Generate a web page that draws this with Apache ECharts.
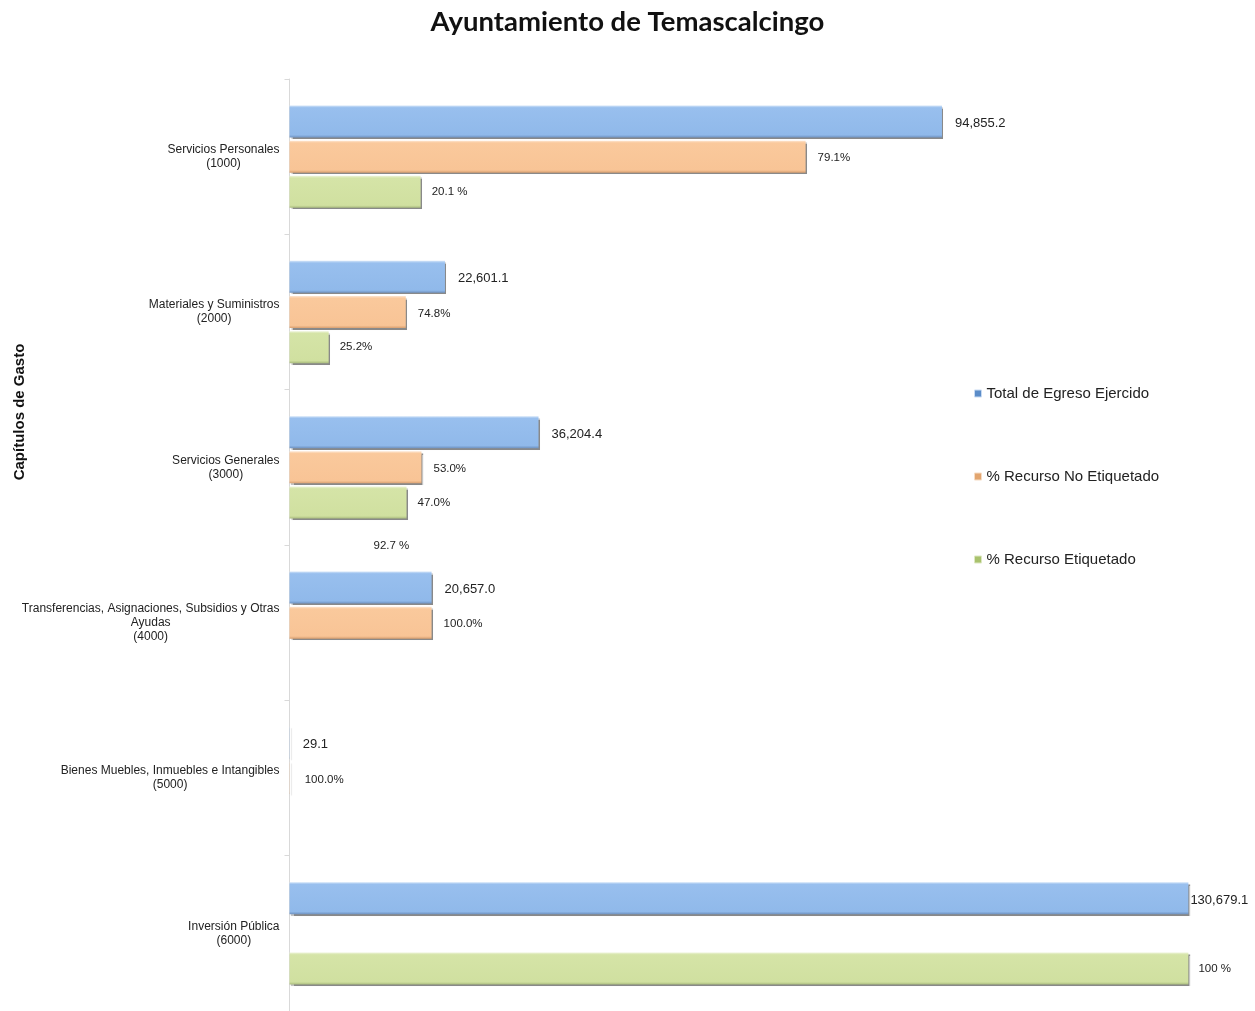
<!DOCTYPE html>
<html>
<head>
<meta charset="utf-8">
<script src="https://cdn.jsdelivr.net/npm/echarts@6/dist/echarts.min.js"></script>
<style>
html,body{margin:0;padding:0;background:#fff;}
#chart{width:1255px;height:1011px;}
</style>
</head>
<body>
<div id="chart"></div>
<script>
// ---- data ----
const categories = [
  'Servicios Personales\n(1000)',
  'Materiales y Suministros\n(2000)',
  'Servicios Generales\n(3000)',
  'Transferencias, Asignaciones, Subsidios y Otras\nAyudas\n(4000)',
  'Bienes Muebles, Inmuebles e Intangibles\n(5000)',
  'Inversión Pública\n(6000)'
];
const seriesNames = ['Total de Egreso Ejercido', '% Recurso No Etiquetado', '% Recurso Etiquetado'];
const totalEgreso = [94855.2, 22601.1, 36204.4, 20657.0, 29.1, 130679.1];
const noEtiquetadoBar = [75030.5, 16905.6, 19188.3, 20657.0, 29.1, null];
const etiquetadoBar = [19065.9, 5695.5, 17016.1, 0, null, 130679.1];
const totalLabels = ['94,855.2', '22,601.1', '36,204.4', '20,657.0', '29.1', '130,679.1'];
const noEtiquetadoLabels = ['79.1%', '74.8%', '53.0%', '100.0%', '100.0%', ''];
const etiquetadoLabels = ['20.1 %', '25.2%', '47.0%', '92.7 %', '', '100 %'];

const FONT = '"Liberation Sans", Arial, sans-serif';

function grad(top, main, main2, bottom) {
  return new echarts.graphic.LinearGradient(0, 0, 0, 1, [
    {offset: 0, color: top},
    {offset: 0.07, color: main},
    {offset: 0.92, color: main2},
    {offset: 1, color: bottom}
  ]);
}
const shadow = {shadowColor: 'rgba(40,40,40,0.55)', shadowOffsetX: 1.5, shadowOffsetY: 1.5, shadowBlur: 1};

function buildData(values, labels, extra) {
  return values.map((v, i) => {
    const item = {value: v, labelText: labels[i]};
    if (extra && extra[i]) item.label = extra[i];
    return item;
  });
}

const chart = echarts.init(document.getElementById('chart'), null, {renderer: 'canvas'});
const option = {
  backgroundColor: '#fff',
  animation: false,
  title: {
    text: 'Ayuntamiento de Temascalcingo',
    left: 'center',
    top: 3,
    textStyle: {fontFamily: 'Lato, "Open Sans", sans-serif', fontSize: 27.5, fontWeight: 'bold', color: '#111'}
  },
  legend: {
    orient: 'vertical',
    left: 969,
    top: 381,
    itemWidth: 7,
    itemHeight: 7,
    itemGap: 68,
    icon: 'rect',
    textStyle: {fontFamily: FONT, fontSize: 15, color: '#222'},
    data: [
      {name: seriesNames[0], itemStyle: {color: '#5b8cc8', borderColor: '#c9dbf2', borderWidth: 1}},
      {name: seriesNames[1], itemStyle: {color: '#e2a56f', borderColor: '#f6dcc4', borderWidth: 1}},
      {name: seriesNames[2], itemStyle: {color: '#a9c26d', borderColor: '#dde8c2', borderWidth: 1}}
    ]
  },
  graphic: [{
    type: 'text',
    x: 20, y: 412,
    rotation: Math.PI / 2,
    style: {text: 'Capítulos de Gasto', font: 'bold 15px ' + FONT, fill: '#111', align: 'center', verticalAlign: 'middle'}
  }],
  grid: {left: 289.5, top: 79, width: 963, height: 934, containLabel: false},
  xAxis: {type: 'value', min: 0, max: 140000, show: false},
  yAxis: {
    type: 'category',
    inverse: true,
    data: categories,
    axisLine: {show: true, lineStyle: {color: '#d9d9d9', width: 1}},
    axisTick: {show: true, length: 5, lineStyle: {color: '#d9d9d9'}},
    axisLabel: {
      margin: 10,
      formatter: v => v.split('\n').map(l => '{c|' + l + '}').join('\n'),
      rich: {c: {align: 'center', fontFamily: FONT, fontSize: 12, color: '#222', lineHeight: 14}}
    }
  },
  series: [
    {
      name: seriesNames[0], type: 'bar', barWidth: 32, barGap: '10%',
      data: buildData(totalEgreso, totalLabels, {5: {distance: 2}}),
      itemStyle: Object.assign({color: grad('#d2e4f8', '#98bfee', '#90b9ea', '#6f93c2')}, shadow),
      label: {show: true, position: 'right', distance: 13, offset: [0, 2], fontFamily: FONT, fontSize: 13, color: '#222',
        formatter: p => p.data.labelText}
    },
    {
      name: seriesNames[1], type: 'bar', barWidth: 32, barGap: '10%',
      data: buildData(noEtiquetadoBar, noEtiquetadoLabels, {4: {distance: 15}}),
      itemStyle: Object.assign({color: grad('#fde5d0', '#fac99c', '#f8c496', '#d9a070')}, shadow),
      label: {show: true, position: 'right', distance: 12, offset: [0, 1.5], fontFamily: FONT, fontSize: 11.5, color: '#222',
        formatter: p => p.data.labelText}
    },
    {
      name: seriesNames[2], type: 'bar', barWidth: 32, barGap: '10%',
      data: buildData(etiquetadoBar, etiquetadoLabels, {3: {distance: 0, offset: [84, -112]}, 5: {distance: 10}}),
      itemStyle: Object.assign({color: grad('#ecf3d6', '#d5e4a7', '#d0e0a0', '#a9bb7d')}, shadow),
      label: {show: true, position: 'right', distance: 11, fontFamily: FONT, fontSize: 11.5, color: '#222',
        formatter: p => p.data.labelText}
    }
  ]
};
chart.setOption(option);
</script>
</body>
</html>
